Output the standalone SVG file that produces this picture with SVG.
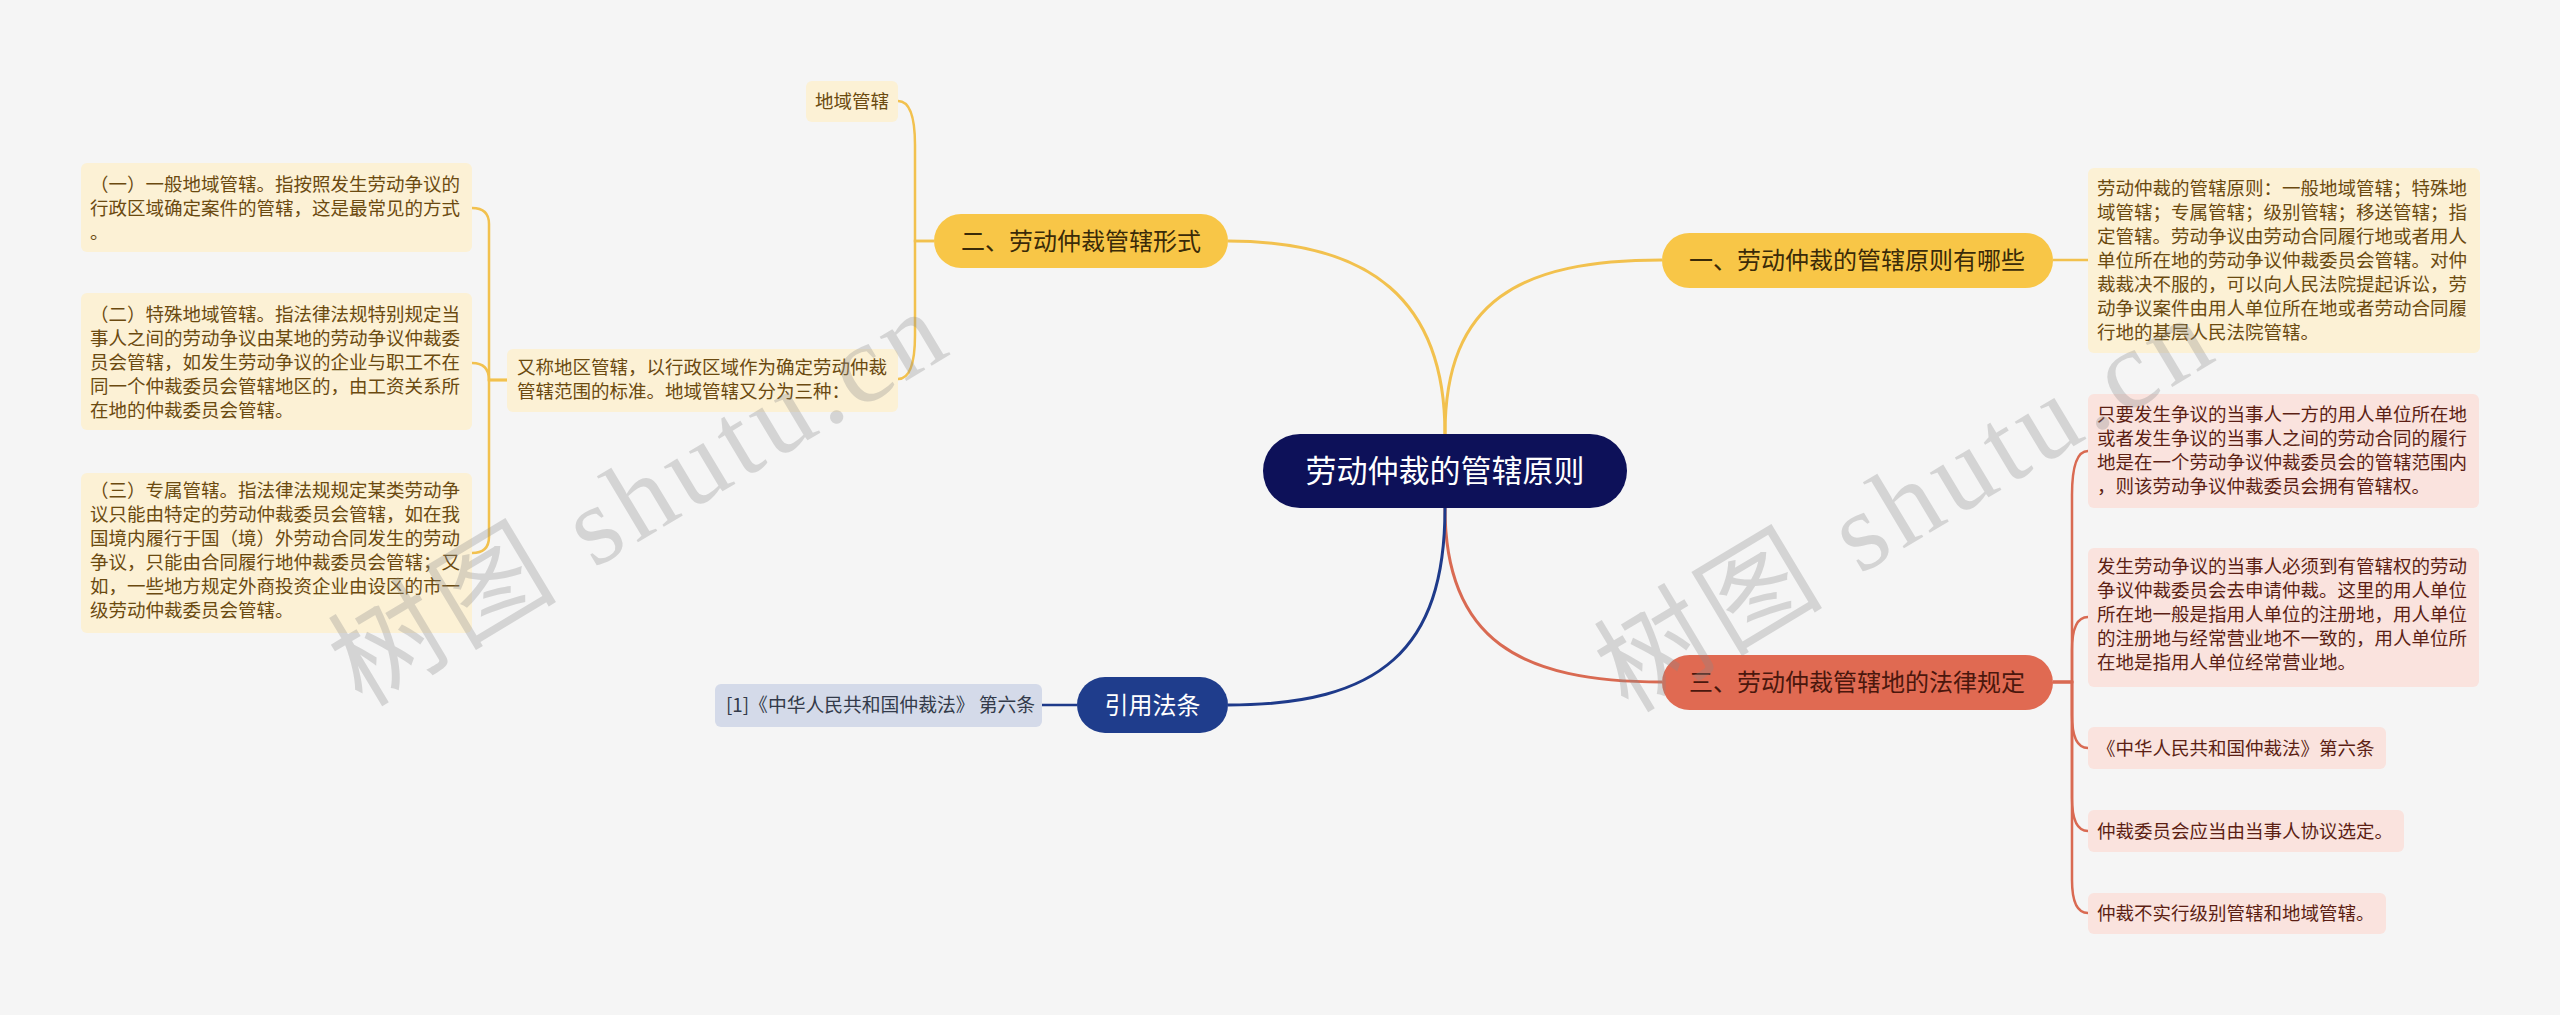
<svg xmlns="http://www.w3.org/2000/svg" width="2560" height="1015" viewBox="0 0 2560 1015">
<style>
text{font-family:"Noto Sans CJK SC","Noto Sans",sans-serif;}
.y{fill:none;stroke:#f2c14e;stroke-width:2.5}
.r{fill:none;stroke:#d96a52;stroke-width:2.5}
.n{fill:none;stroke:#1e3a8a;stroke-width:2.5}
.main{stroke-width:3}
.cy{fill:#fcf1d5}
.cr{fill:#fae3de}
.ty{font-size:18.5px;fill:#6b4a10}
.tr{font-size:18.5px;fill:#5c1f14}
.wm{font-family:"Liberation Serif","Noto Sans CJK SC",serif;font-size:112px;letter-spacing:6px;fill:#8a8a8a;opacity:0.3}
</style>
<rect width="2560" height="1015" fill="#f5f5f5"/>
<g id="connectors">
<path class="y main" d="M1445 434 C1445 300 1520 260 1662 260"/>
<path class="y main" d="M1445 434 C1445 300 1370 241 1228 241"/>
<path class="r main" d="M1445 508 C1445 640 1520 682 1662 682"/>
<path class="n main" d="M1445 508 C1445 650 1380 705 1228 705"/>
<path class="y" d="M2053 260 H2088"/>
<path class="y" d="M934 241 H915 V145 Q915 101 898 101"/>
<path class="y" d="M934 241 H915 V335 Q915 379 898 379"/>
<path class="y" d="M507 380 H489 V224 Q489 208 472 208"/>
<path class="y" d="M507 380 H489 Q489 363 472 363"/>
<path class="y" d="M507 380 H489 V537 Q489 553 472 553"/>
<path class="r" d="M2053 682 H2072 V495 Q2072 451 2088 451"/>
<path class="r" d="M2053 682 H2072 V650 Q2072 617 2088 617"/>
<path class="r" d="M2053 682 H2072 V715 Q2072 748 2088 748"/>
<path class="r" d="M2053 682 H2072 V798 Q2072 831 2088 831"/>
<path class="r" d="M2053 682 H2072 V880 Q2072 913 2088 913"/>
<path class="n" d="M1042 705 H1077"/>
</g>
<g id="root">
<rect x="1263" y="434" width="364" height="74" rx="37" fill="#0d1159"/>
<text x="1445" y="482" font-size="31" fill="#ffffff" text-anchor="middle">劳动仲裁的管辖原则</text>
</g>
<g id="n1">
<rect x="1662" y="233" width="391" height="55" rx="27.5" fill="#f8c647"/>
<text x="1857" y="269" font-size="24" fill="#3a2a08" text-anchor="middle">一、劳动仲裁的管辖原则有哪些</text>
</g>
<g id="n1a">
<rect class="cy" x="2088" y="168" width="392" height="185" rx="6"/>
<text class="ty"><tspan x="2097" y="195">劳动仲裁的管辖原则：一般地域管辖；特殊地</tspan><tspan x="2097" y="219">域管辖；专属管辖；级别管辖；移送管辖；指</tspan><tspan x="2097" y="243">定管辖。劳动争议由劳动合同履行地或者用人</tspan><tspan x="2097" y="267">单位所在地的劳动争议仲裁委员会管辖。对仲</tspan><tspan x="2097" y="291">裁裁决不服的，可以向人民法院提起诉讼，劳</tspan><tspan x="2097" y="315">动争议案件由用人单位所在地或者劳动合同履</tspan><tspan x="2097" y="339">行地的基层人民法院管辖。</tspan></text>
</g>
<g id="n2">
<rect x="934" y="214" width="294" height="54" rx="27" fill="#f8c647"/>
<text x="1081" y="250" font-size="24" fill="#3a2a08" text-anchor="middle">二、劳动仲裁管辖形式</text>
</g>
<g id="n2a">
<rect class="cy" x="806" y="81" width="92" height="41" rx="6"/>
<text class="ty" x="852" y="108" text-anchor="middle">地域管辖</text>
</g>
<g id="n2b">
<rect class="cy" x="507" y="349" width="391" height="63" rx="6"/>
<text class="ty"><tspan x="517" y="374">又称地区管辖，以行政区域作为确定劳动仲裁</tspan><tspan x="517" y="398">管辖范围的标准。地域管辖又分为三种：</tspan></text>
</g>
<g id="n2b1">
<rect class="cy" x="81" y="163" width="391" height="89" rx="6"/>
<text class="ty"><tspan x="90" y="191">（一）一般地域管辖。指按照发生劳动争议的</tspan><tspan x="90" y="215">行政区域确定案件的管辖，这是最常见的方式</tspan><tspan x="90" y="239">。</tspan></text>
</g>
<g id="n2b2">
<rect class="cy" x="81" y="293" width="391" height="137" rx="6"/>
<text class="ty"><tspan x="90" y="321">（二）特殊地域管辖。指法律法规特别规定当</tspan><tspan x="90" y="345">事人之间的劳动争议由某地的劳动争议仲裁委</tspan><tspan x="90" y="369">员会管辖，如发生劳动争议的企业与职工不在</tspan><tspan x="90" y="393">同一个仲裁委员会管辖地区的，由工资关系所</tspan><tspan x="90" y="417">在地的仲裁委员会管辖。</tspan></text>
</g>
<g id="n2b3">
<rect class="cy" x="81" y="473" width="391" height="160" rx="6"/>
<text class="ty"><tspan x="90" y="497">（三）专属管辖。指法律法规规定某类劳动争</tspan><tspan x="90" y="521">议只能由特定的劳动仲裁委员会管辖，如在我</tspan><tspan x="90" y="545">国境内履行于国（境）外劳动合同发生的劳动</tspan><tspan x="90" y="569">争议，只能由合同履行地仲裁委员会管辖；又</tspan><tspan x="90" y="593">如，一些地方规定外商投资企业由设区的市一</tspan><tspan x="90" y="617">级劳动仲裁委员会管辖。</tspan></text>
</g>
<g id="n3">
<rect x="1662" y="655" width="391" height="55" rx="27.5" fill="#e06a52"/>
<text x="1857" y="691" font-size="24" fill="#4a170d" text-anchor="middle">三、劳动仲裁管辖地的法律规定</text>
</g>
<g id="n3a">
<rect class="cr" x="2088" y="394" width="391" height="114" rx="6"/>
<text class="tr"><tspan x="2097" y="421">只要发生争议的当事人一方的用人单位所在地</tspan><tspan x="2097" y="445">或者发生争议的当事人之间的劳动合同的履行</tspan><tspan x="2097" y="469">地是在一个劳动争议仲裁委员会的管辖范围内</tspan><tspan x="2097" y="493">，则该劳动争议仲裁委员会拥有管辖权。</tspan></text>
</g>
<g id="n3b">
<rect class="cr" x="2088" y="548" width="391" height="139" rx="6"/>
<text class="tr"><tspan x="2097" y="573">发生劳动争议的当事人必须到有管辖权的劳动</tspan><tspan x="2097" y="597">争议仲裁委员会去申请仲裁。这里的用人单位</tspan><tspan x="2097" y="621">所在地一般是指用人单位的注册地，用人单位</tspan><tspan x="2097" y="645">的注册地与经常营业地不一致的，用人单位所</tspan><tspan x="2097" y="669">在地是指用人单位经常营业地。</tspan></text>
</g>
<g id="n3c">
<rect class="cr" x="2088" y="727" width="298" height="42" rx="6"/>
<text class="tr" x="2097" y="755">《中华人民共和国仲裁法》第六条</text>
</g>
<g id="n3d">
<rect class="cr" x="2088" y="810" width="316" height="42" rx="6"/>
<text class="tr" x="2097" y="838">仲裁委员会应当由当事人协议选定。</text>
</g>
<g id="n3e">
<rect class="cr" x="2088" y="893" width="298" height="41" rx="6"/>
<text class="tr" x="2097" y="920">仲裁不实行级别管辖和地域管辖。</text>
</g>
<g id="n4">
<rect x="1077" y="677" width="151" height="56" rx="28" fill="#1f3d8c"/>
<text x="1152.5" y="714" font-size="24" fill="#ffffff" text-anchor="middle">引用法条</text>
</g>
<g id="n4a">
<rect x="715" y="684" width="327" height="43" rx="6" fill="#d4dae9"/>
<text x="726" y="712" font-size="18.8" fill="#333a4a">[1]《中华人民共和国仲裁法》 第六条</text>
</g>
<g id="watermark">
<text class="wm" transform="translate(362,708) rotate(-31)">树图 shutu.cn</text>
<text class="wm" transform="translate(1628,714) rotate(-31)">树图 shutu.cn</text>
</g>
</svg>
